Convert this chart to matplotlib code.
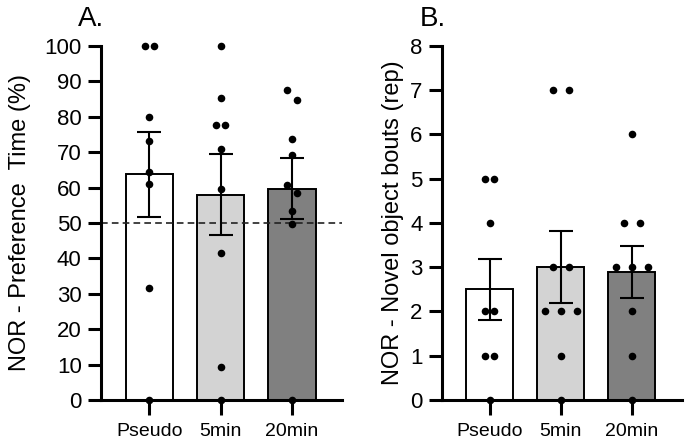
import numpy as np
import matplotlib
matplotlib.use("Agg")
import matplotlib.pyplot as plt

plt.rcParams['font.family'] = ['Liberation Sans', 'DejaVu Sans']

groups = ["Pseudo", "5min", "20min"]
bar_colors = ["#ffffff", "#d3d3d3", "#808080"]

# A. preference time (%), one list per group
pref_pseudo = [100, 100, 80, 73.3, 64.4, 61.1, 31.6, 0]
pref_5min = [100, 85.2, 77.8, 77.8, 71.0, 59.7, 41.5, 9.2, 0]
pref_20min = [87.5, 84.6, 73.7, 69.3, 60.8, 58.5, 53.3, 49.8, 0]

# B. novel object bouts
bouts_pseudo = [5, 5, 4, 2, 2, 1, 1, 0]
bouts_5min = [7, 7, 3, 3, 2, 2, 2, 1, 0]
bouts_20min = [6, 4, 4, 3, 3, 3, 2, 1, 0]


def spread(vals, step, tol):
    # side by side offsets for points that would overlap
    vals = np.asarray(vals, float)
    order = np.argsort(-vals, kind="stable")
    offs = np.zeros(len(vals))
    clusters = []
    cur = [order[0]]
    for i in order[1:]:
        if vals[cur[-1]] - vals[i] < tol:
            cur.append(i)
        else:
            clusters.append(cur)
            cur = [i]
    clusters.append(cur)
    for c in clusters:
        n = len(c)
        for k, idx in enumerate(c):
            offs[idx] = (k - (n - 1) / 2) * step
    return offs


def panel(ax, data, ymax, yticks, ylabel, steps, tol, labelpad):
    x = np.arange(len(data))
    means = [np.mean(d) for d in data]
    sems = [np.std(d, ddof=1) / np.sqrt(len(d)) for d in data]
    ax.bar(x, means, width=0.66, color=bar_colors, edgecolor="black",
           linewidth=1.4, zorder=1)
    ax.errorbar(x, means, yerr=sems, fmt="none", ecolor="black",
                elinewidth=1.5, capsize=8.5, capthick=1.5, zorder=3)
    for i, d in enumerate(data):
        xs = i + spread(d, steps[i], tol)
        ax.scatter(xs, d, s=30, color="black", zorder=5, clip_on=False,
                   linewidths=0)
    ax.set_xlim(-0.675, 2.7)
    ax.set_ylim(0, ymax)
    ax.set_yticks(yticks)
    ax.set_xticks(x)
    ax.set_xticklabels(groups, fontsize=14)
    ax.tick_params(axis="y", labelsize=16, length=9.4, width=2.2, pad=4.5)
    ax.tick_params(axis="x", length=10.8, width=2.2, pad=5.5)
    for s in ["top", "right"]:
        ax.spines[s].set_visible(False)
    for s in ["left", "bottom"]:
        ax.spines[s].set_linewidth(2.2)
    ax.set_ylabel(ylabel, fontsize=17, labelpad=labelpad)


fig = plt.figure(figsize=(6.85, 4.43), dpi=100)
ax1 = fig.add_axes([0.1474, 0.0971, 0.3518, 0.7991])
ax2 = fig.add_axes([0.6448, 0.0971, 0.3504, 0.7991])

panel(ax1, [pref_pseudo, pref_5min, pref_20min], 100, np.arange(0, 101, 10),
      "NOR - Preference  Time (%)", [0.127, 0.127, 0.127], 3.0, 10)
ax1.axhline(50, color="#222222", linewidth=1.2, dashes=(4, 2.5), zorder=2)

panel(ax2, [bouts_pseudo, bouts_5min, bouts_20min], 8, np.arange(0, 9, 1),
      "NOR - Novel object bouts (rep)", [0.127, 0.225, 0.225], 0.5, 4)

fig.text(78 / 685, 0.941, "A.", fontsize=20, ha="left", va="baseline")
fig.text(420 / 685, 0.941, "B.", fontsize=20, ha="left", va="baseline")

fig.savefig("out.png", dpi=100)
